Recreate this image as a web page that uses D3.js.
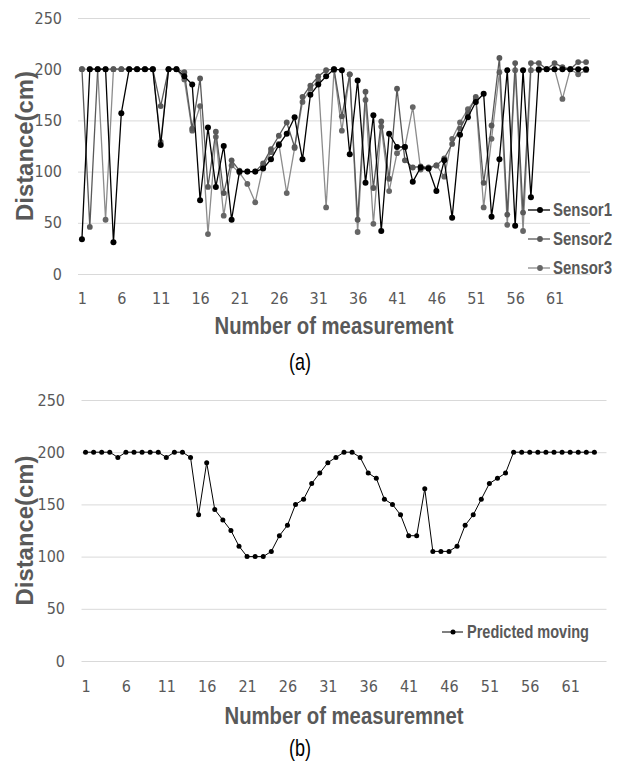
<!DOCTYPE html>
<html><head><meta charset="utf-8">
<script src="https://cdn.jsdelivr.net/npm/d3@7/dist/d3.min.js"></script>
<style>body{margin:0;background:#fff}svg{display:block}</style>
</head><body>
<svg id="chart" width="624" height="766"></svg>
<script>
// ---------- data ----------
const measurementsA = d3.range(1, 66);   // category labels, chart (a)
const measurementsB = d3.range(1, 66);   // category labels, chart (b) (last category empty)
const sensor1 = [34,200,200,200,31,157,200,200,200,200,126,200,200,193,185,72,143,85,125,53,100,100,100,103,112,126,137,153,112,175,185,193,200,199,117,189,89,155,42,137,124,124,90,104,103,81,111,55,136,153,168,176,56,112,199,47,199,75,200,200,200,200,200,200,200];
const sensor2 = [200,46,200,200,200,200,200,200,200,200,164,200,200,197,142,191,85,139,79,111,101,100,100,108,122,135,148,124,173,184,193,199,200,154,195,53,178,84,149,93,181,111,104,105,104,106,113,127,142,157,173,89,145,211,58,206,60,206,206,200,206,202,200,207,207];
const sensor3 = [200,200,200,53,200,200,200,200,200,200,129,200,200,190,140,164,39,134,57,106,99,88,70,105,119,127,79,123,168,181,189,65,199,140,195,41,170,49,144,81,118,124,163,102,103,106,95,132,148,161,171,65,132,197,48,199,42,199,199,200,200,171,200,195,199];
const predicted = [200,200,200,200,195,200,200,200,200,200,195,200,200,195,140,190,145,135,125,110,100,100,100,105,120,130,150,155,170,180,190,195,200,200,195,180,175,155,150,140,120,120,165,105,105,105,110,130,140,155,170,175,180,200,200,200,200,200,200,200,200,200,200,200];
const yTicks = [0, 50, 100, 150, 200, 250];
const xTicks = [1, 6, 11, 16, 21, 26, 31, 36, 41, 46, 51, 56, 61];
const seriesNamesA = ["Sensor1", "Sensor2", "Sensor3"];
const seriesNamesB = ["Predicted moving"];

// ---------- drawing ----------
const svg = d3.select("#chart");
svg.append("rect").attr("width", 624).attr("height", 766).attr("fill", "#fff");

const TICK_FONT = "'DejaVu Sans Condensed','DejaVu Sans',sans-serif";
const TITLE_FONT = "'Liberation Sans',Arial,sans-serif";
const GREY = "#595959";

function panel(p) {
  const g = svg.append("g");
  const x = d3.scalePoint().domain(p.cats).range([p.left, p.right]).padding(0.5);
  const y = d3.scaleLinear().domain([0, 250]).range([p.bottom, p.top]);

  // gridlines
  const grid = g.append("g").attr("transform", `translate(${p.left},0)`)
    .call(d3.axisLeft(y).tickValues(yTicks).tickSize(-(p.right - p.left)).tickFormat(""));
  grid.select(".domain").remove();
  grid.selectAll("line").attr("stroke", "#d9d9d9").attr("stroke-width", 1);

  // y tick labels
  const ya = g.append("g").attr("transform", `translate(${p.left},0)`)
    .call(d3.axisLeft(y).tickValues(yTicks).tickSize(0).tickPadding(p.left - p.yLabelRight));
  ya.select(".domain").remove();
  ya.selectAll("text").attr("font-family", TICK_FONT).attr("font-stretch", "condensed")
    .attr("font-size", 16).attr("fill", GREY);

  // x tick labels
  const xa = g.append("g").attr("transform", `translate(0,${p.bottom})`)
    .call(d3.axisBottom(x).tickValues(xTicks).tickSize(0).tickPadding(p.xPad));
  xa.select(".domain").remove();
  xa.selectAll("text").attr("font-family", TICK_FONT).attr("font-stretch", "condensed")
    .attr("font-size", 16).attr("fill", GREY);

  // series (draw in reverse so Sensor1 on top)
  p.series.slice().reverse().forEach(s => {
    const pts = s.values.map((v, i) => [p.cats[i], v]);
    g.append("path").datum(pts)
      .attr("fill", "none").attr("stroke", s.line).attr("stroke-width", s.lw)
      .attr("stroke-linejoin", "round")
      .attr("d", d3.line().x(d => x(d[0])).y(d => y(d[1])));
    g.append("g").selectAll("circle").data(pts).join("circle")
      .attr("cx", d => x(d[0])).attr("cy", d => y(d[1])).attr("r", s.r)
      .attr("fill", s.marker);
  });

  // legend
  p.series.forEach((s, i) => {
    const ly = p.legend.y + i * p.legend.dy;
    g.append("line").attr("x1", p.legend.x1).attr("x2", p.legend.x2)
      .attr("y1", ly).attr("y2", ly).attr("stroke", s.line).attr("stroke-width", s.lw);
    g.append("circle").attr("cx", p.legend.mx).attr("cy", ly).attr("r", s.r).attr("fill", s.marker);
    g.append("text").attr("x", p.legend.tx).attr("y", ly).attr("dy", "0.36em")
      .attr("font-family", TITLE_FONT).attr("font-weight", "bold").attr("font-size", p.legend.fs)
      .attr("fill", GREY).attr("textLength", s.tl).attr("lengthAdjust", "spacingAndGlyphs")
      .text(s.name);
  });

  // y title
  g.append("text")
    .attr("transform", `translate(${p.yTitleX},${(p.top + p.bottom) / 2}) rotate(-90)`)
    .attr("text-anchor", "middle").attr("dy", "0.36em")
    .attr("font-family", TITLE_FONT).attr("font-weight", "bold").attr("font-size", 23)
    .attr("fill", GREY).attr("textLength", 150).attr("lengthAdjust", "spacingAndGlyphs")
    .text("Distance(cm)");

  // x title
  g.append("text").attr("x", (p.left + p.right) / 2).attr("y", p.xTitleY)
    .attr("text-anchor", "middle")
    .attr("font-family", TITLE_FONT).attr("font-weight", "bold").attr("font-size", 24)
    .attr("fill", GREY).attr("textLength", 239).attr("lengthAdjust", "spacingAndGlyphs")
    .text(p.xTitle);

  // caption
  g.append("text").attr("x", p.capX).attr("y", p.capY).attr("text-anchor", "middle")
    .attr("font-family", TITLE_FONT).attr("font-size", 24).attr("fill", "#000")
    .attr("textLength", 22).attr("lengthAdjust", "spacingAndGlyphs")
    .text(p.caption);
}

panel({
  cats: measurementsA, left: 78, right: 590, top: 18, bottom: 274,
  yLabelRight: 62, xPad: 19, yTitleX: 25, xTitleY: 334, xTitle: "Number of measurement",
  capX: 300, capY: 370, caption: "(a)",
  series: [
    { name: seriesNamesA[0], values: sensor1, line: "#000000", marker: "#000000", r: 3, lw: 1.3, tl: 59 },
    { name: seriesNamesA[1], values: sensor2, line: "#595959", marker: "#595959", r: 2.9, lw: 1.3, tl: 59 },
    { name: seriesNamesA[2], values: sensor3, line: "#8c8c8c", marker: "#666666", r: 2.9, lw: 1.3, tl: 59 }
  ],
  legend: { x1: 528, x2: 550, mx: 540, tx: 553, y: 210, dy: 29, fs: 18 }
});

panel({
  cats: measurementsB, left: 81.5, right: 606.5, top: 400, bottom: 661,
  yLabelRight: 65, xPad: 19.5, yTitleX: 25, xTitleY: 724, xTitle: "Number of measuremnet",
  capX: 300, capY: 756, caption: "(b)",
  series: [
    { name: seriesNamesB[0], values: predicted, line: "#000000", marker: "#000000", r: 2.5, lw: 1, tl: 122 }
  ],
  legend: { x1: 442, x2: 463, mx: 453, tx: 467, y: 632, dy: 0, fs: 18 }
});
</script>
</body></html>
